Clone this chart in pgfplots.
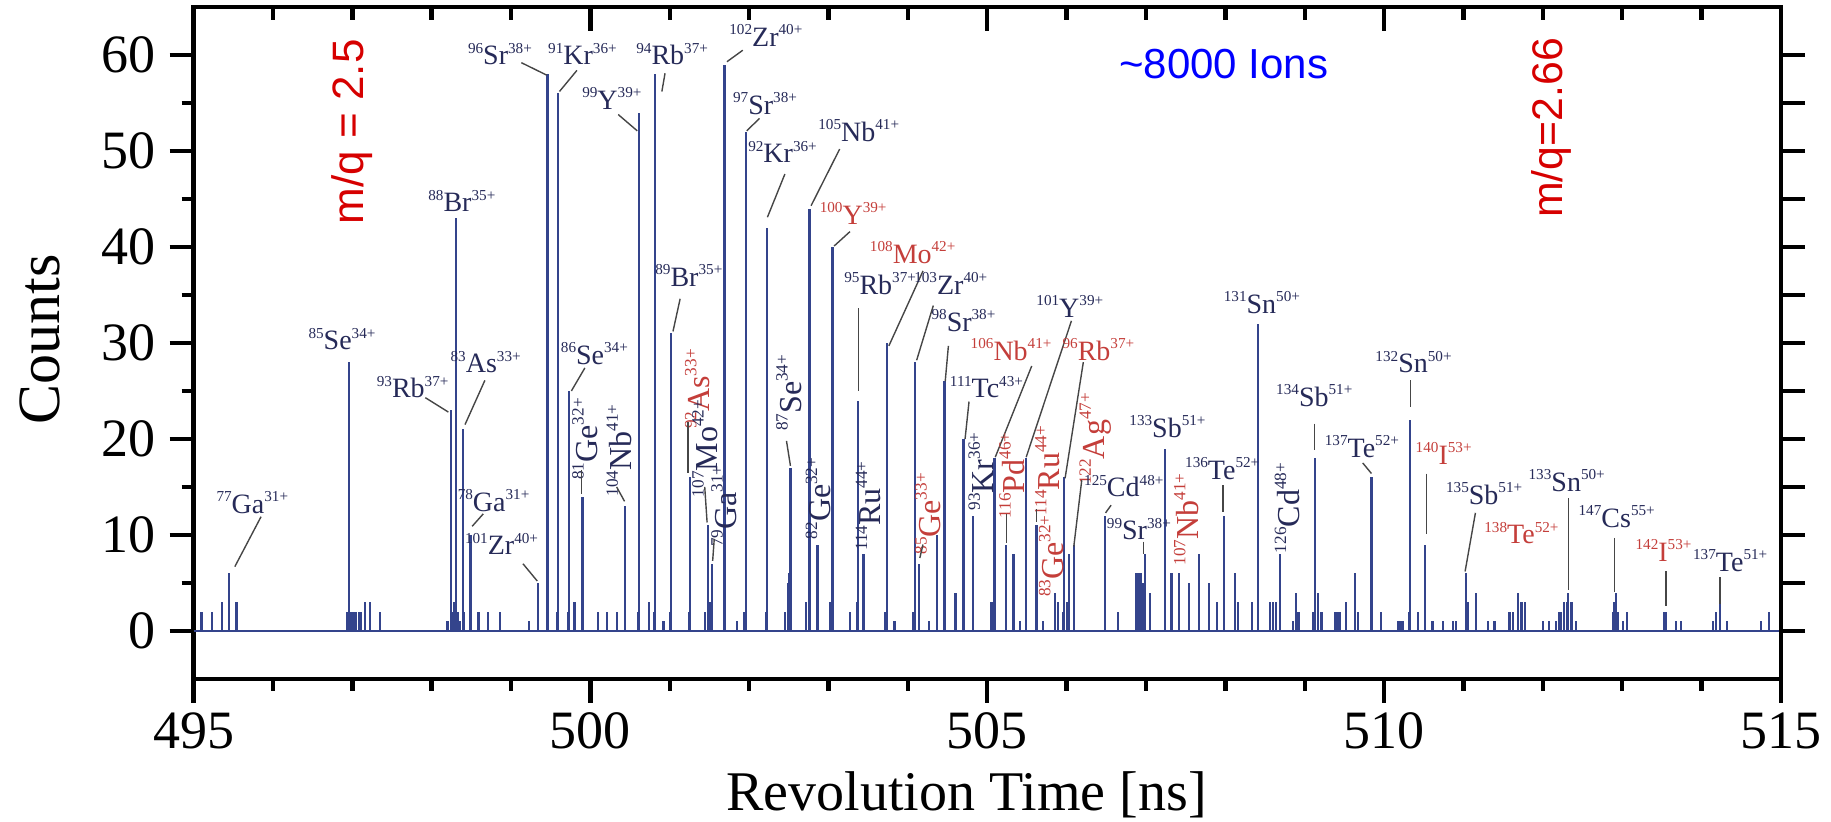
\documentclass[border=0pt]{standalone}
\usepackage{fontspec}
\setmainfont{Liberation Serif}
\newfontfamily\sansf{Liberation Sans}
\usepackage{pgfplots}
\pgfplotsset{compat=1.18}

\definecolor{peak}{RGB}{52,68,140}
\definecolor{labdark}{RGB}{38,42,88}
\definecolor{labred}{RGB}{196,62,58}
\definecolor{mqred}{RGB}{214,0,0}
\definecolor{leadc}{RGB}{70,70,70}

% isotope label: ^{A}X^{q+}
\newcommand{\iso}[3]{\raisebox{0.42em}{\fontsize{3.8}{4}\selectfont#1}#2\raisebox{0.42em}{\fontsize{3.8}{4}\selectfont#3+}}
\newcommand{\isor}[3]{\raisebox{0.42em}{\fontsize{4.3}{4.5}\selectfont#1}#2\raisebox{0.42em}{\fontsize{4.3}{4.5}\selectfont#3+}}

\tikzset{
  lab/.style={font=\fontsize{7}{8}\selectfont, text=labdark, inner sep=0pt},
  labr/.style={lab, text=labred},
  rot/.style={rotate=90, font=\fontsize{8}{9}\selectfont},
  ld/.style={draw=leadc, line width=0.35pt},
}
\pgfplotsset{
  frame/.style={at={(0,0)}, anchor=south west, scale only axis,
    width=396.9pt, height=168pt, xmin=495, xmax=515, ymin=-5, ymax=65},
  ticks/.style={tick style={line width=1.1pt, black}, axis line style={line width=1.2pt}},
}

\begin{document}
\begin{tikzpicture}
\useasboundingbox (-48.4pt,-35.75pt) rectangle (409.4pt,169.75pt);

\begin{axis}[frame, ticks,
  xtick={495,500,...,515}, minor xtick={496,...,514},
  ytick={0,10,...,60}, minor ytick={5,15,...,55},
  xtick pos=bottom, ytick pos=left, tick align=outside,
  major tick length=6pt, minor tick length=3pt,
  tick label style={font=\fontsize{13.5}{15}\selectfont},
  xticklabel style={yshift=1pt},
  /pgf/number format/assume math mode=true,
  xlabel={Revolution Time [ns]}, ylabel={Counts},
  xlabel style={font=\fontsize{14}{16}\selectfont, at={(axis description cs:0.487,-0.173)}, anchor=center},
  ylabel style={font=\fontsize{15}{16}\selectfont, at={(axis description cs:-0.097,0.505)}, anchor=center},
  clip=false,
]

% baseline
\addplot[peak, line width=0.6pt] coordinates {(495,0) (515,0)};

% spectrum
\addplot[ycomb, peak, line width=0.55pt] coordinates {
(495.10,2) (495.23,2) (495.36,3) (495.45,6) (495.54,3)
(496.93,2) (496.955,2) (496.96,28) (496.98,2) (497.00,2) (497.02,2) (497.05,2) (497.08,2) (497.11,2) (497.16,3) (497.22,3) (497.35,2)
(498.19,1) (498.21,1) (498.24,23) (498.26,2) (498.28,3) (498.31,43) (498.33,2) (498.35,1) (498.39,21) (498.41,2) (498.49,10) (498.59,2) (498.71,2) (498.86,2)
(499.23,1) (499.34,5) (499.45,2) (499.46,58) (499.58,2) (499.59,56) (499.72,2) (499.73,25) (499.80,3) (499.90,14)
(500.10,2) (500.21,2) (500.33,2) (500.44,13) (500.60,2) (500.61,54) (500.74,3) (500.80,2) (500.81,58) (500.92,1) (501.00,2) (501.01,31)
(501.24,2) (501.25,16) (501.44,2) (501.48,11) (501.51,3) (501.53,7) (501.68,3) (501.69,59) (501.85,1) (501.94,2) (501.955,52)
(502.21,2) (502.22,42) (502.45,2) (502.49,5) (502.50,6) (502.51,6) (502.52,17) (502.53,5) (502.72,3) (502.76,44) (502.86,9) (503.02,3) (503.05,40)
(503.27,2) (503.36,3) (503.37,24) (503.44,8) (503.71,2) (503.74,30) (503.83,1)
(504.07,2) (504.09,28) (504.14,7) (504.27,1) (504.37,10) (504.45,3) (504.46,26) (504.60,4) (504.70,20) (504.82,12)
(505.05,3) (505.07,3) (505.09,18) (505.24,9) (505.33,8) (505.41,1) (505.49,18) (505.62,11) (505.70,1) (505.85,4) (505.89,3) (505.95,2) (505.97,16) (506.01,3) (506.03,8) (506.09,9)
(506.48,12) (506.65,2) (506.88,6) (506.90,6) (506.92,6) (506.94,6) (506.96,5) (506.99,8) (507.05,4) (507.24,19) (507.32,6) (507.42,6) (507.54,5) (507.67,8) (507.79,5) (507.89,3) (507.98,12)
(508.12,6) (508.16,3) (508.33,3) (508.41,32) (508.56,3) (508.60,3) (508.64,3) (508.69,8) (508.85,1) (508.89,4) (508.92,2)
(509.11,2) (509.13,18) (509.17,4) (509.21,2) (509.38,2) (509.40,2) (509.42,2) (509.44,2) (509.52,3) (509.63,6) (509.67,2) (509.84,16) (509.96,2)
(510.17,1) (510.19,1) (510.21,1) (510.24,1) (510.31,2) (510.33,22) (510.43,2) (510.51,9) (510.61,1) (510.74,1) (510.87,1) (510.91,1)
(511.03,6) (511.05,3) (511.16,4) (511.31,1) (511.39,1)
(511.58,2) (511.62,2) (511.69,4) (511.73,3) (511.77,3) (512.00,1) (512.08,1)
(512.17,1) (512.21,2) (512.23,2) (512.27,3) (512.30,3) (512.32,4) (512.36,3) (512.42,1)
(512.88,2) (512.90,3) (512.92,4) (512.95,2) (513.01,1) (513.06,2)
(513.53,2) (513.55,2) (513.68,1) (513.74,1)
(514.14,1) (514.18,2) (514.23,3) (514.32,1) (514.75,1) (514.85,2)
};

% isotope labels
\node[lab] at (axis cs:495.74,13.4) {\iso{77}{Ga}{31}};
\draw[ld] (axis cs:495.85,11.9) -- (axis cs:495.52,6.7);
\node[lab] at (axis cs:496.87,30.4) {\iso{85}{Se}{34}};
\node[lab] at (axis cs:497.76,25.4) {\iso{93}{Rb}{37}};
\draw[ld] (axis cs:497.92,24.3) -- (axis cs:498.21,22.8);
\node[lab] at (axis cs:498.38,44.8) {\iso{88}{Br}{35}};
\node[lab] at (axis cs:498.68,28.0) {\iso{83}{As}{33}};
\draw[ld] (axis cs:498.67,26.1) -- (axis cs:498.42,21.5);
\node[lab] at (axis cs:498.78,13.6) {\iso{78}{Ga}{31}};
\draw[ld] (axis cs:498.65,12.2) -- (axis cs:498.51,10.9);
\node[lab] at (axis cs:498.88,9.05) {\iso{101}{Zr}{40}};
\draw[ld] (axis cs:499.15,7.0) -- (axis cs:499.33,5.2);
\node[lab] at (axis cs:498.86,60.1) {\iso{96}{Sr}{38}};
\draw[ld] (axis cs:499.13,59.2) -- (axis cs:499.45,57.9);
\node[lab] at (axis cs:499.90,60.1) {\iso{91}{Kr}{36}};
\draw[ld] (axis cs:499.83,58.4) -- (axis cs:499.61,56.2);
\node[lab] at (axis cs:500.27,55.5) {\iso{99}{Y}{39}};
\draw[ld] (axis cs:500.35,53.8) -- (axis cs:500.59,52.1);
\node[lab] at (axis cs:501.03,60.1) {\iso{94}{Rb}{37}};
\draw[ld] (axis cs:500.94,58.1) -- (axis cs:500.90,56.2);
\node[lab] at (axis cs:501.24,37.0) {\iso{89}{Br}{35}};
\draw[ld] (axis cs:501.13,34.6) -- (axis cs:501.04,31.2);
\node[lab] at (axis cs:500.05,28.9) {\iso{86}{Se}{34}};
\draw[ld] (axis cs:499.93,27.4) -- (axis cs:499.76,25.0);
\node[lab,rot] at (axis cs:499.93,20.0) {\isor{81}{Ge}{32}};
\draw[ld] (axis cs:499.89,16.8) -- (axis cs:499.89,14.3);
\node[lab,rot] at (axis cs:500.36,18.8) {\isor{104}{Nb}{41}};
\draw[ld] (axis cs:500.33,15.0) -- (axis cs:500.43,13.5);
\node[labr,rot] at (axis cs:501.35,25.2) {\isor{92}{As}{33}};
\draw[ld] (axis cs:501.23,21.8) -- (axis cs:501.23,16.5);
\node[lab,rot] at (axis cs:501.44,19.0) {\isor{107}{Mo}{42}};
\draw[ld] (axis cs:501.44,15.0) -- (axis cs:501.47,11.3);
\node[lab,rot] at (axis cs:501.68,13.0) {\isor{79}{Ga}{31}};
\draw[ld] (axis cs:501.56,9.6) -- (axis cs:501.54,7.3);
\node[lab] at (axis cs:502.21,62.0) {\iso{102}{Zr}{40}};
\draw[ld] (axis cs:501.92,60.5) -- (axis cs:501.72,59.3);
\node[lab] at (axis cs:502.20,54.9) {\iso{97}{Sr}{38}};
\draw[ld] (axis cs:502.13,53.4) -- (axis cs:501.97,52.1);
\node[lab] at (axis cs:502.42,49.9) {\iso{92}{Kr}{36}};
\draw[ld] (axis cs:502.45,47.6) -- (axis cs:502.23,43.1);
\node[lab] at (axis cs:503.38,52.1) {\iso{105}{Nb}{41}};
\draw[ld] (axis cs:503.14,50.2) -- (axis cs:502.78,44.3);
\node[labr] at (axis cs:503.31,43.5) {\iso{100}{Y}{39}};
\draw[ld] (axis cs:503.27,41.6) -- (axis cs:503.07,40.1);
\node[labr] at (axis cs:504.06,39.4) {\iso{108}{Mo}{42}};
\draw[ld] (axis cs:504.19,37.5) -- (axis cs:503.76,29.7);
\node[lab] at (axis cs:503.65,36.2) {\iso{95}{Rb}{37}};
\draw[ld] (axis cs:503.38,33.6) -- (axis cs:503.38,25.0);
\node[lab] at (axis cs:504.54,36.2) {\iso{103}{Zr}{40}};
\draw[ld] (axis cs:504.32,33.9) -- (axis cs:504.11,28.2);
\node[lab] at (axis cs:504.70,32.3) {\iso{98}{Sr}{38}};
\draw[ld] (axis cs:504.51,29.7) -- (axis cs:504.47,26.0);
\node[lab] at (axis cs:504.99,25.4) {\iso{111}{Tc}{43}};
\draw[ld] (axis cs:504.77,23.9) -- (axis cs:504.72,20.0);
\node[lab,rot] at (axis cs:502.50,24.8) {\isor{87}{Se}{34}};
\draw[ld] (axis cs:502.47,19.8) -- (axis cs:502.52,17.2);
\node[lab,rot] at (axis cs:502.87,13.8) {\isor{82}{Ge}{32}};
\node[lab,rot] at (axis cs:503.50,13.0) {\isor{114}{Ru}{44}};
\node[labr,rot] at (axis cs:504.25,12.2) {\isor{85}{Ge}{33}};
\draw[ld] (axis cs:504.15,7.6) -- (axis cs:504.19,9.0);
\node[lab,rot] at (axis cs:504.92,16.6) {\isor{93}{Kr}{36}};
\node[lab] at (axis cs:506.04,33.8) {\iso{101}{Y}{39}};
\draw[ld] (axis cs:506.06,32.3) -- (axis cs:505.49,18.1);
\node[labr] at (axis cs:505.30,29.3) {\iso{106}{Nb}{41}};
\draw[ld] (axis cs:505.56,27.6) -- (axis cs:505.10,18.1);
\node[labr] at (axis cs:506.40,29.3) {\iso{96}{Rb}{37}};
\draw[ld] (axis cs:506.21,28.0) -- (axis cs:505.98,15.9);
\node[labr,rot] at (axis cs:506.36,20.0) {\isor{122}{Ag}{47}};
\draw[ld] (axis cs:506.19,15.7) -- (axis cs:506.09,8.8);
\node[labr,rot] at (axis cs:505.31,16.2) {\isor{116}{Pd}{46}};
\draw[ld] (axis cs:505.24,12.2) -- (axis cs:505.24,9.2);
\node[labr,rot] at (axis cs:505.76,16.7) {\isor{114}{Ru}{44}};
\draw[ld] (axis cs:505.62,12.7) -- (axis cs:505.62,11.3);
\node[labr,rot] at (axis cs:505.81,7.8) {\isor{83}{Ge}{32}};
\node[lab] at (axis cs:506.72,15.1) {\iso{125}{Cd}{48}};
\draw[ld] (axis cs:506.56,13.1) -- (axis cs:506.49,12.3);
\node[lab] at (axis cs:506.91,10.6) {\iso{99}{Sr}{38}};
\draw[ld] (axis cs:506.97,9.3) -- (axis cs:506.97,8.0);
\node[lab] at (axis cs:507.27,21.3) {\iso{133}{Sb}{51}};
\node[labr,rot] at (axis cs:507.51,11.6) {\isor{107}{Nb}{41}};
\node[lab] at (axis cs:507.96,16.9) {\iso{136}{Te}{52}};
\draw[ld] (axis cs:507.97,15.2) -- (axis cs:507.97,12.4);
\node[lab] at (axis cs:508.46,34.2) {\iso{131}{Sn}{50}};
\node[lab,rot] at (axis cs:508.78,12.8) {\isor{126}{Cd}{48}};
\node[lab] at (axis cs:509.12,24.5) {\iso{134}{Sb}{51}};
\draw[ld] (axis cs:509.12,21.6) -- (axis cs:509.12,18.8);
\node[lab] at (axis cs:509.72,19.2) {\iso{137}{Te}{52}};
\draw[ld] (axis cs:509.73,17.5) -- (axis cs:509.84,16.4);
\node[lab] at (axis cs:510.37,28.0) {\iso{132}{Sn}{50}};
\draw[ld] (axis cs:510.33,26.1) -- (axis cs:510.33,23.3);
\node[labr] at (axis cs:510.75,18.5) {\iso{140}{I}{53}};
\draw[ld] (axis cs:510.53,16.4) -- (axis cs:510.53,10.1);
\node[lab] at (axis cs:511.26,14.3) {\iso{135}{Sb}{51}};
\draw[ld] (axis cs:511.15,12.3) -- (axis cs:511.02,6.2);
\node[labr] at (axis cs:511.73,10.2) {\iso{138}{Te}{52}};
\node[lab] at (axis cs:512.30,15.7) {\iso{133}{Sn}{50}};
\draw[ld] (axis cs:512.32,13.8) -- (axis cs:512.32,4.3);
\node[lab] at (axis cs:512.93,11.9) {\iso{147}{Cs}{55}};
\draw[ld] (axis cs:512.90,9.7) -- (axis cs:512.90,4.1);
\node[labr] at (axis cs:513.52,8.4) {\iso{142}{I}{53}};
\draw[ld] (axis cs:513.55,6.2) -- (axis cs:513.55,2.6);
\node[lab] at (axis cs:514.36,7.3) {\iso{137}{Te}{51}};
\draw[ld] (axis cs:514.23,5.6) -- (axis cs:514.23,2.8);

% annotations
\node[font=\sansf\fontsize{11}{12}\selectfont, text=mqred, rotate=90] at (axis cs:497.0,52.0) {m/q = 2.5};
\node[font=\sansf\fontsize{10.7}{12}\selectfont, text=mqred, rotate=90] at (axis cs:512.11,52.4) {m/q=2.66};
\node[font=\sansf\fontsize{10.5}{12}\selectfont, text=blue] at (axis cs:507.98,59.1) {\textasciitilde8000 Ions};
\end{axis}

% top ticks (inward)
\begin{axis}[frame, ticks, axis x line*=top, hide y axis,
  xtick={495,500,...,515}, minor xtick={496,...,514}, xticklabels={},
  tick align=inside, major tick length=6pt, minor tick length=3.2pt]
\end{axis}

% right ticks (outward)
\begin{axis}[frame, ticks, axis y line*=right, hide x axis,
  ytick={0,5,...,60}, yticklabels={}, tick align=outside,
  major tick length=6pt]
\end{axis}
\end{tikzpicture}
\end{document}
